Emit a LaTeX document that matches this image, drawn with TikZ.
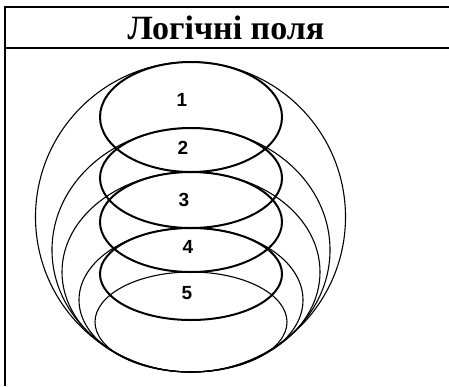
\documentclass[tikz,border=0pt]{standalone}
\usepackage{fontspec}
\setmainfont{Liberation Serif}
\setsansfont{Liberation Sans}
\usetikzlibrary{positioning}

\begin{document}
\begin{tikzpicture}[
    x=1pt, y=-1pt,
    frameline/.style={line width=2pt, draw=black},
    thinring/.style={line width=1.1pt, draw=black},
    thickring/.style={line width=2pt, draw=black},
    titletext/.style={font=\bfseries\fontsize{34}{34}\selectfont, inner sep=0pt, anchor=base},
    fieldlabel/.style={font=\sffamily\bfseries\fontsize{19}{19}\selectfont, inner sep=0pt}
]
\useasboundingbox (0,0) rectangle (449,386);

% 1. Table frame and heading
\draw[frameline] (449,7) -- (5,7) -- (5,386);
\draw[frameline] (5,48) -- (449,48);
\node[titletext] (title) at (226,39) {Логічні поля};

% 2. Outer rings (all touching at the bottom)
\draw[thinring] (190.5,217) circle [radius=155];
\draw[thinring] (191,250) ellipse [x radius=139, y radius=122];
\draw[thinring] (191,272) ellipse [x radius=129, y radius=100];
\draw[thinring] (191,300) ellipse [x radius=112, y radius=72];
\draw[thinring] (191,322) ellipse [x radius=96, y radius=50];

% 3. Stacked fields
\draw[thickring] (191,117) ellipse [x radius=91, y radius=55];
\draw[thickring] (191,178) ellipse [x radius=91, y radius=50];
\draw[thickring] (191,222) ellipse [x radius=91, y radius=50];
\draw[thickring] (191,274) ellipse [x radius=91, y radius=46];

% 4. Field numbers
\node[fieldlabel] (field1) at (182,100) {1};
\node[fieldlabel] (field2) at (183,148) {2};
\node[fieldlabel] (field3) at (184,200) {3};
\node[fieldlabel] (field4) at (188,247) {4};
\node[fieldlabel] (field5) at (187,293) {5};

\end{tikzpicture}
\end{document}
